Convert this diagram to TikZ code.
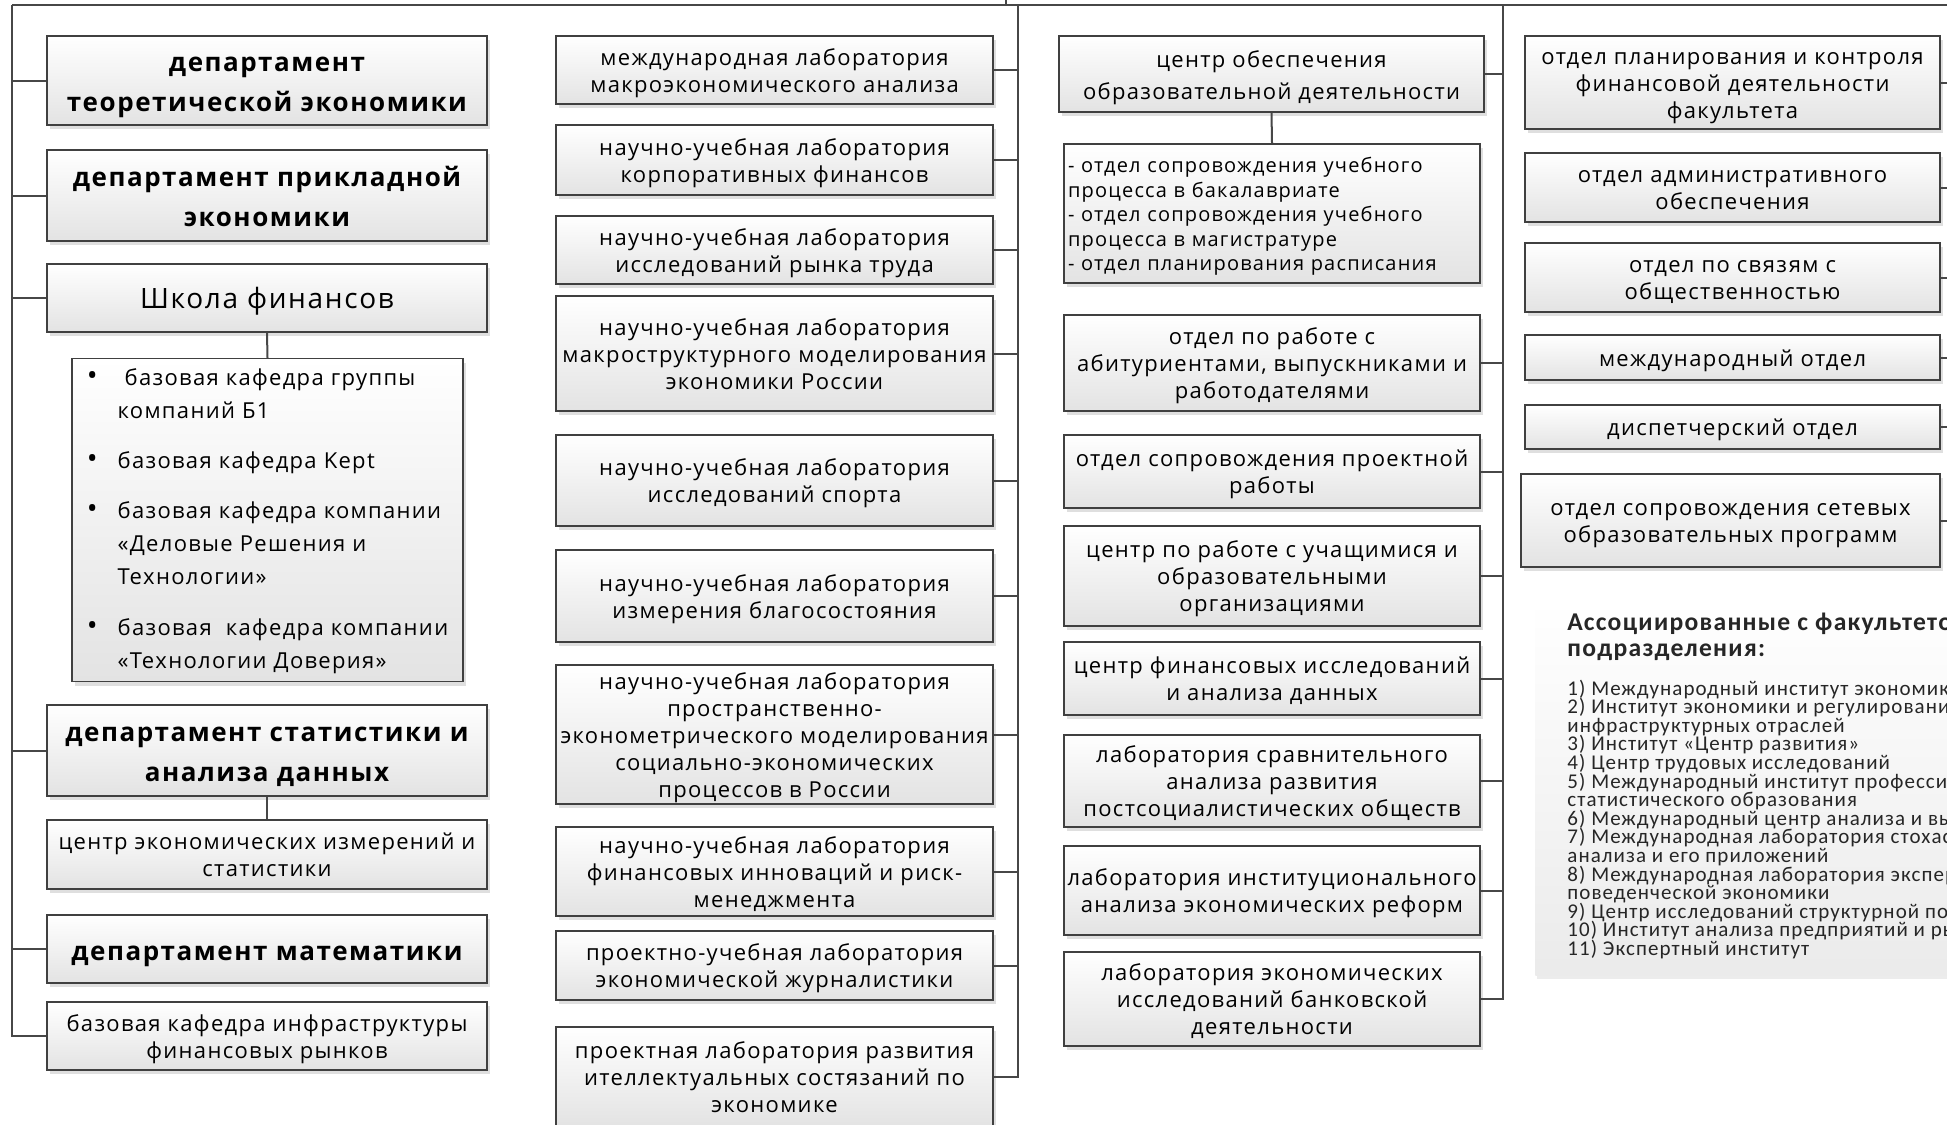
\documentclass[tikz,border=0pt]{standalone}
\usepackage{fontspec}
\setmainfont{Open Sans}[LetterSpace=6]
\newfontfamily\calfont{Carlito}[LetterSpace=5]
\newcommand\tightlines{\lineskiplimit -100pt\lineskip 0pt\relax}
\newcommand\rows[1]{\raisebox{-1.6pt}[\height][\depth]{\begin{tabular}{@{}c@{}}#1\end{tabular}}}
\newcommand\lrows[1]{\raisebox{-1.6pt}[\height][\depth]{\begin{tabular}{@{}l@{}}#1\end{tabular}}}
\usepackage{tikz}
\usetikzlibrary{positioning,shadows,calc}

\begin{document}
\begin{tikzpicture}[x=0.5pt, y=-0.5pt,
    box/.style={draw=black!75, line width=0.7pt, top color=white, bottom color=black!11,
        drop shadow={shadow xshift=1.5pt, shadow yshift=-2pt, opacity=0.25},
        inner sep=1pt, text=black, font=\fontsize{11}{13.5}\selectfont},
    dept/.style={box, font=\bfseries\fontsize{13}{20}\selectfont},
    sz/.style 2 args={minimum width=#1*0.5pt, minimum height=#2*0.5pt},
    link/.style={draw=black!72, line width=1pt},
    legendbg/.style={top color=white, bottom color=black!8, inner sep=0pt,
        drop shadow={shadow xshift=1pt, shadow yshift=-2pt, opacity=0.15}},
    legend/.style={anchor=north west, align=left, inner sep=0pt, text=black!85}]
\path[use as bounding box, clip] (0,0) rectangle (1947,1124);

\node[dept, sz={440}{89}] (teor) at (267,80.5) {\rows{департамент\\теоретической экономики}};
\node[dept, sz={440}{91}] (prikl) at (267,195.5) {\rows{департамент прикладной\\экономики}};
\node[box, sz={440}{68}, font=\fontsize{14}{18}\selectfont] (shkola) at (267,298) {\rows{Школа финансов}};
\node[box, sz={391}{323}, font=\fontsize{11}{16.5}\selectfont] (kafedry) at (267.5,520) {%
  \begin{tabular}{@{}l@{\hspace{10pt}}l@{}}
  {\Large\textbullet} & \ базовая кафедра группы\\
   & компаний Б1\\[8.7pt]
  {\Large\textbullet} & базовая кафедра Kept\\[8.7pt]
  {\Large\textbullet} & базовая кафедра компании\\
   & «Деловые Решения и\\
   & Технологии»\\[8.7pt]
  {\Large\textbullet} & базовая\ \ кафедра компании\\
   & «Технологии Доверия»
  \end{tabular}};
\node[dept, sz={440}{91}] (stat) at (267,750.5) {\rows{департамент статистики и\\анализа данных}};
\node[box, sz={440}{69}] (izmer) at (267,854.5) {\rows{центр экономических измерений и\\статистики}};
\node[dept, sz={440}{68}] (matem) at (267,949) {\rows{департамент математики}};
\node[box, sz={440}{68}] (infra) at (267,1036) {\rows{базовая кафедра инфраструктуры\\финансовых рынков}};

\node[box, sz={437}{68}] (mlab) at (774.5,70) {\rows{международная лаборатория\\макроэкономического анализа}};
\node[box, sz={437}{70}] (korp) at (774.5,160) {\rows{научно-учебная лаборатория\\корпоративных финансов}};
\node[box, sz={437}{68}] (trud) at (774.5,250) {\rows{научно-учебная лаборатория\\исследований рынка труда}};
\node[box, sz={437}{115}] (makro) at (774.5,353.5) {\rows{научно-учебная лаборатория\\макроструктурного моделирования\\экономики России}};
\node[box, sz={437}{91}] (sport) at (774.5,480.5) {\rows{научно-учебная лаборатория\\исследований спорта}};
\node[box, sz={437}{92}] (blago) at (774.5,596) {\rows{научно-учебная лаборатория\\измерения благосостояния}};
\node[box, sz={437}{137}] (prostr) at (774.5,734.5) {\rows{научно-учебная лаборатория\\пространственно-\\эконометрического моделирования\\социально-экономических\\процессов в России}};
\node[box, sz={437}{89}] (risk) at (774.5,871.5) {\rows{научно-учебная лаборатория\\финансовых инноваций и риск-\\менеджмента}};
\node[box, sz={437}{69}] (zhurn) at (774.5,965.5) {\rows{проектно-учебная лаборатория\\экономической журналистики}};
\node[box, sz={437}{100}] (olimp) at (774.5,1077) {\rows{проектная лаборатория развития\\ителлектуальных состязаний по\\экономике}};

\node[box, sz={425}{76}, font=\fontsize{11}{16}\selectfont] (cobr) at (1271.5,74) {\rows{центр обеспечения\\образовательной деятельности}};
\node[box, sz={416}{139}, text width=204pt, inner xsep=2pt, align=left, font=\fontsize{10}{12.3}\selectfont] (otdely) at (1272,213.5) {\lrows{- отдел сопровождения учебного\\процесса в бакалавриате\\- отдел сопровождения учебного\\процесса в магистратуре\\- отдел планирования расписания}};
\node[box, sz={416}{96}] (abitur) at (1272,363) {\rows{отдел по работе с\\абитуриентами, выпускниками и\\работодателями}};
\node[box, sz={416}{73}] (proekt) at (1272,471.5) {\rows{отдел сопровождения проектной\\работы}};
\node[box, sz={416}{100}] (uchash) at (1272,576) {\rows{центр по работе с учащимися и\\образовательными\\организациями}};
\node[box, sz={416}{73}] (finis) at (1272,678.5) {\rows{центр финансовых исследований\\и анализа данных}};
\node[box, sz={416}{92}] (postsoc) at (1272,781) {\rows{лаборатория сравнительного\\анализа развития\\постсоциалистических обществ}};
\node[box, sz={416}{89}] (instit) at (1272,890.5) {\rows{лаборатория институционального\\анализа экономических реформ}};
\node[box, sz={416}{94}] (bank) at (1272,999) {\rows{лаборатория экономических\\исследований банковской\\деятельности}};

\node[box, sz={415}{93}] (plan) at (1732.5,82.5) {\rows{отдел планирования и контроля\\финансовой деятельности\\факультета}};
\node[box, sz={415}{69}] (admin) at (1732.5,187.5) {\rows{отдел административного\\обеспечения}};
\node[box, sz={415}{69}] (pr) at (1732.5,277.5) {\rows{отдел по связям с\\общественностью}};
\node[box, sz={415}{45}] (mezhd) at (1732.5,357.5) {\rows{международный отдел}};
\node[box, sz={415}{44}] (disp) at (1732.5,427) {\rows{диспетчерский отдел}};
\node[box, sz={419}{93}] (setev) at (1730.5,520.5) {\rows{отдел сопровождения сетевых\\образовательных программ}};

\node[legendbg, sz={460}{375}, anchor=north west] (assocbg) at (1535,600) {};
\node[legend, font=\calfont\bfseries\fontsize{12.8}{13}\selectfont] (assoctitle) at (1567,613) {Ассоциированные с факультетом\\подразделения:};
\node[legend, font=\calfont\fontsize{10.5}{9.3}\selectfont\tightlines] (assoclist) at ([yshift=-9pt]assoctitle.south west) {%
1) Международный институт экономики и финансов\\
2) Институт экономики и регулирования\\
инфраструктурных отраслей\\
3) Институт «Центр развития»\\
4) Центр трудовых исследований\\
5) Международный институт профессионального\\
статистического образования\\
6) Международный центр анализа и выбора решений\\
7) Международная лаборатория стохастического\\
анализа и его приложений\\
8) Международная лаборатория экспериментальной и\\
поведенческой экономики\\
9) Центр исследований структурной политики\\
10) Институт анализа предприятий и рынков\\
11) Экспертный институт};

\coordinate (ta) at (12,4.5);
\coordinate (tb) at (1018,4.5);
\coordinate (tc) at (1503,4.5);
\coordinate (td) at (1962,4.5);
\coordinate (root) at (1006,-4);
\draw[link] (ta) -- (td);
\draw[link] (root) -- (root |- ta);

\draw[link] (ta) |- (infra.west);
\foreach \n in {teor,prikl,shkola,stat,matem}
  \draw[link] (\n.west) -- (\n.west -| ta);
\draw[link] (shkola.south) -- (kafedry.north);
\draw[link] (stat.south) -- (izmer.north);

\draw[link] (tb) |- (olimp.east);
\foreach \n in {mlab,korp,trud,makro,sport,blago,prostr,risk,zhurn}
  \draw[link] (\n.east) -- (\n.east -| tb);

\draw[link] (tc) |- (bank.east);
\foreach \n in {cobr,abitur,proekt,uchash,finis,postsoc,instit}
  \draw[link] (\n.east) -- (\n.east -| tc);
\draw[link] (cobr.south) -- (otdely.north);

\draw[link] (td) |- (setev.east);
\foreach \n in {plan,admin,pr,mezhd,disp}
  \draw[link] (\n.east) -- (\n.east -| td);
\end{tikzpicture}
\end{document}
